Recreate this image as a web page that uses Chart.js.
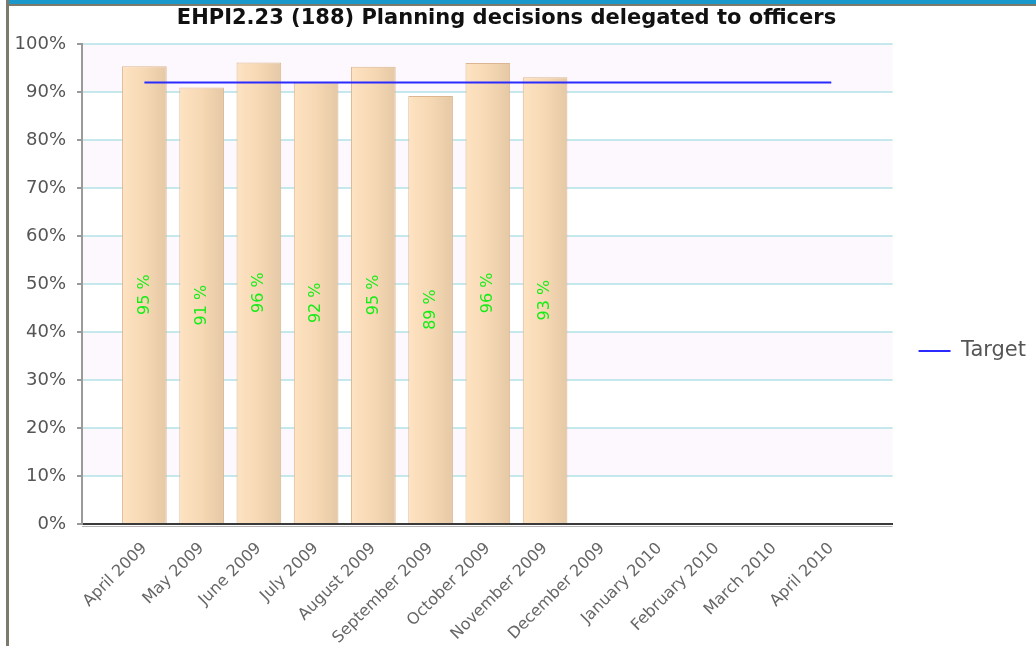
<!DOCTYPE html>
<html lang="en">
<head>
  <meta charset="UTF-8" />
  <title>EHPI2.23 (188) Planning decisions delegated to officers</title>
  <script src="https://cdn.jsdelivr.net/npm/chart.js"></script>
  <style>
    body {
      margin: 0; background: #fff;
      width: 1036px; height: 646px; overflow: hidden;
      font-family: 'DejaVu Sans', sans-serif;
    }
    .frame {
      position: absolute; left: 6px; top: 0;
      width: 1030px; height: 646px;
      border-left: 3px solid #7d7a6c; box-sizing: border-box;
    }
    .topbar { height: 4px; background: #1898cb; }
    .topline { height: 2px; background: #7d7a6c; }
    .chart-box { position: absolute; left: 0; top: 6px; width: 1027px; height: 640px; }
  </style>
</head>
<body>
  <div class="frame">
    <div class="topbar"></div>
    <div class="topline"></div>
    <div class="chart-box"><canvas id="kpiChart"></canvas></div>
  </div>

  <script>
    const months = ['April 2009', 'May 2009', 'June 2009', 'July 2009', 'August 2009',
      'September 2009', 'October 2009', 'November 2009', 'December 2009',
      'January 2010', 'February 2010', 'March 2010', 'April 2010'];
    const actual = [95.4, 91.0, 96.2, 92.0, 95.3, 89.2, 96.1, 93.1, null, null, null, null, null];
    const target = [92, 92, 92, 92, 92, 92, 92, 92, 92, 92, 92, 92, 92];
    const bandFloors = [90, 70, 50, 30, 10];

    // pink stripes behind the grid
    const bands = {
      id: 'bands',
      beforeDraw(chart) {
        const { ctx, chartArea: a, scales: { y } } = chart;
        ctx.save();
        ctx.fillStyle = '#fdf8fe';
        bandFloors.forEach(v => {
          const top = y.getPixelForValue(v + 10), bot = y.getPixelForValue(v);
          ctx.fillRect(a.left, top, a.right - a.left, bot - top);
        });
        ctx.restore();
      }
    };

    // horizontal gradient on each bar
    const barShade = {
      id: 'barShade',
      beforeDatasetsDraw(chart) {
        const { ctx } = chart;
        chart.getDatasetMeta(0).data.forEach(bar => {
          const half = bar.width / 2;
          const g = ctx.createLinearGradient(bar.x - half, 0, bar.x + half, 0);
          g.addColorStop(0, '#fee3c2');
          g.addColorStop(0.5, '#f6d8b4');
          g.addColorStop(1, '#e5c8a5');
          bar.options = Object.assign({}, bar.options, { backgroundColor: g });
        });
      }
    };

    // rotated value labels in the middle of the bars
    const valueLabels = {
      id: 'valueLabels',
      afterDatasetsDraw(chart) {
        const { ctx } = chart;
        ctx.save();
        ctx.font = '16px "DejaVu Sans"';
        ctx.fillStyle = '#16ec16';
        ctx.textAlign = 'center';
        ctx.textBaseline = 'middle';
        chart.getDatasetMeta(0).data.forEach((bar, i) => {
          if (actual[i] == null) return;
          ctx.save();
          ctx.translate(bar.x, (bar.y + bar.base) / 2);
          ctx.rotate(-Math.PI / 2);
          ctx.fillText(Math.round(actual[i]) + ' %', 0, 0);
          ctx.restore();
        });
        ctx.restore();
      }
    };

    // shadow under the x axis line + nudge the title a bit left
    const extras = {
      id: 'extras',
      afterLayout(chart) {
        if (chart.titleBlock) {
          chart.titleBlock.left -= 16;
          chart.titleBlock.right -= 16;
        }
      },
      afterDraw(chart) {
        const { ctx, chartArea: a } = chart;
        ctx.save();
        ctx.strokeStyle = '#b4b4b4';
        ctx.lineWidth = 1;
        ctx.beginPath();
        ctx.moveTo(a.left, a.bottom + 2.5);
        ctx.lineTo(a.right, a.bottom + 2.5);
        ctx.stroke();
        ctx.restore();
      }
    };

    Chart.defaults.font.family = "'DejaVu Sans', sans-serif";

    new Chart(document.getElementById('kpiChart'), {
      type: 'bar',
      data: {
        datasets: [{
          type: 'bar',
          label: 'Actual',
          data: actual.map((v, i) => ({ x: i, y: v })),
          backgroundColor: '#f6d8b4',
          borderColor: '#dcb690',
          borderWidth: 1,
          barPercentage: 0.78,
          categoryPercentage: 1,
          order: 1
        }, {
          type: 'line',
          label: 'Target',
          data: target.map((v, i) => ({ x: i, y: v })),
          borderColor: '#2b2bff',
          backgroundColor: '#2b2bff',
          borderWidth: 2,
          pointRadius: 0,
          pointStyle: 'line',
          fill: false,
          tension: 0,
          order: 0
        }]
      },
      options: {
        responsive: true,
        maintainAspectRatio: false,
        animation: false,
        devicePixelRatio: 1,
        plugins: {
          title: {
            display: true,
            text: 'EHPI2.23 (188) Planning decisions delegated to officers',
            color: '#111',
            font: { size: 21, weight: 'bold' },
            padding: { top: 0, bottom: 13 }
          },
          legend: {
            position: 'right',
            title: { display: true, text: ' ', font: { size: 10 }, padding: { top: 0, bottom: 38 } },
            labels: {
              usePointStyle: true,
              pointStyleWidth: 32,
              padding: 26,
              color: '#555',
              font: { size: 21 },
              filter: item => item.datasetIndex === 1
            }
          },
          tooltip: { enabled: false }
        },
        scales: {
          x: {
            type: 'linear',
            offset: false,
            min: -1.09,
            max: 13.07,
            afterFit(s) { s.height = 122; },
            grid: { display: false },
            border: { color: '#3a3a3a', width: 2 },
            ticks: {
              stepSize: 1,
              autoSkip: false,
              maxRotation: 45,
              minRotation: 45,
              padding: 7,
              color: '#666',
              font: { size: 16 },
              callback: v => (Number.isInteger(v) && months[v]) ? months[v] : ''
            }
          },
          y: {
            min: 0,
            max: 100,
            afterFit(s) { s.width = 73; },
            grid: { color: '#c5e8ec', lineWidth: 2, tickColor: '#999', tickLength: 5 },
            border: { color: '#9a9a9a', width: 2 },
            ticks: {
              stepSize: 10,
              padding: 11,
              color: '#555',
              font: { size: 18 },
              callback: v => v + '%'
            }
          }
        }
      },
      plugins: [bands, barShade, valueLabels, extras]
    });
  </script>
</body>
</html>
